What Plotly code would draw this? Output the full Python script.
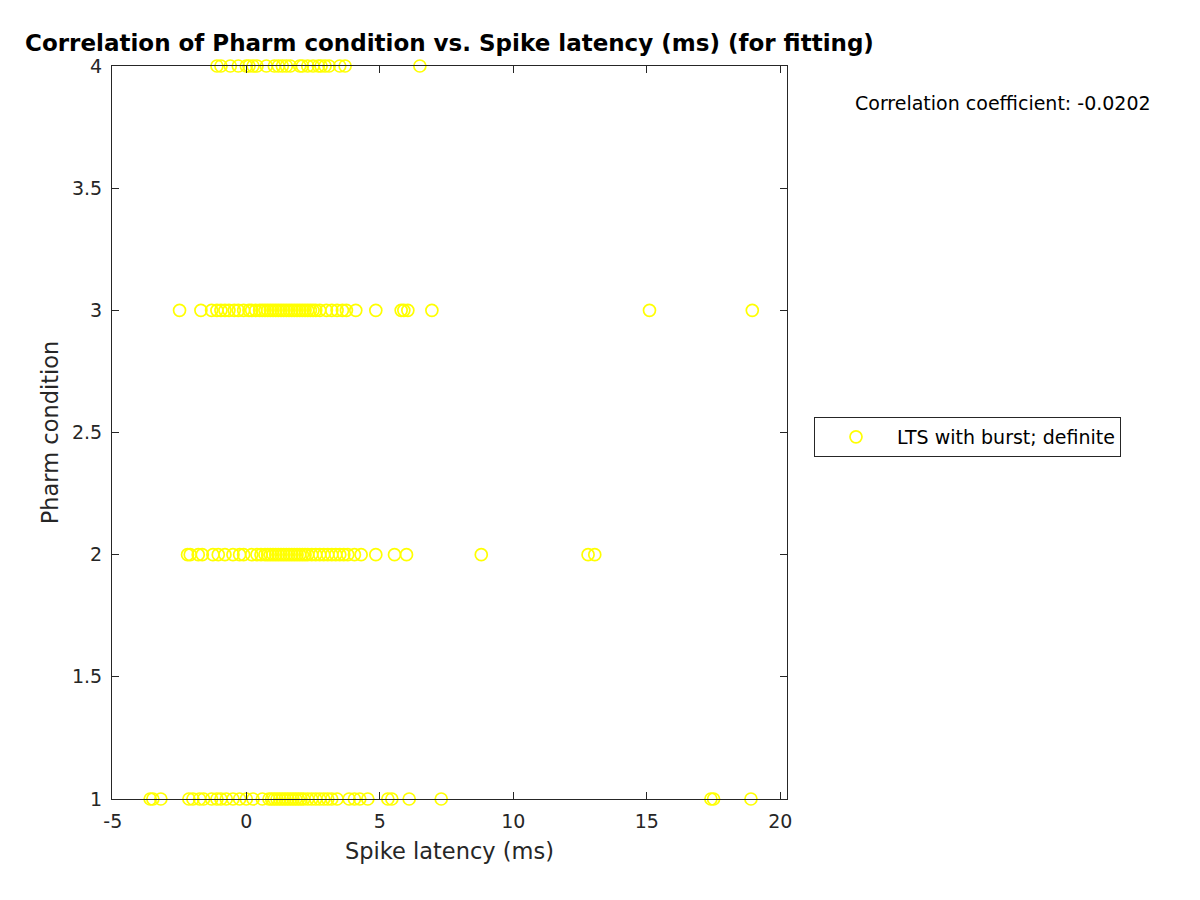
import plotly.graph_objects as go

# Spike latency (ms) values for each pharm condition
latency_pharm1 = [-3.6, -3.5, -3.2, -2.15, -2.0, -1.75, -1.6, -1.3, -1.1, -0.95, -0.75, -0.5,
                  -0.25, 0.0, 0.25, 0.6, 0.85, 0.95, 1.05, 1.15, 1.25, 1.35, 1.45, 1.55, 1.65,
                  1.75, 1.85, 1.95, 2.05, 2.15, 2.3, 2.45, 2.6, 2.75, 2.9, 3.05, 3.2, 3.4, 3.85,
                  4.05, 4.25, 4.55, 5.3, 5.45, 6.1, 7.3, 17.4, 17.5, 18.9]
latency_pharm2 = [-2.2, -2.1, -1.8, -1.65, -1.25, -1.05, -0.8, -0.5, -0.25, -0.1, 0.2, 0.4,
                  0.55, 0.7, 0.8, 0.9, 1.0, 1.1, 1.2, 1.3, 1.4, 1.5, 1.6, 1.7, 1.8, 1.9, 2.0,
                  2.1, 2.2, 2.3, 2.45, 2.6, 2.75, 2.9, 3.05, 3.2, 3.35, 3.5, 3.65, 3.8, 4.05,
                  4.3, 4.85, 5.55, 6.0, 8.8, 12.8, 13.05]
latency_pharm3 = [-2.5, -1.7, -1.3, -1.1, -0.95, -0.8, -0.65, -0.45, -0.3, -0.1, 0.1, 0.2,
                  0.35, 0.5, 0.6, 0.7, 0.8, 0.9, 1.0, 1.1, 1.2, 1.3, 1.4, 1.5, 1.6, 1.7, 1.8,
                  1.9, 2.0, 2.1, 2.2, 2.3, 2.4, 2.5, 2.6, 2.75, 3.0, 3.2, 3.4, 3.6, 3.75, 4.1,
                  4.85, 5.8, 5.9, 6.05, 6.95, 15.1, 18.95]
latency_pharm4 = [-1.1, -0.95, -0.6, -0.3, 0.0, 0.1, 0.25, 0.4, 0.75, 1.05, 1.2, 1.35, 1.5,
                  1.65, 2.0, 2.1, 2.3, 2.5, 2.7, 2.8, 2.95, 3.1, 3.5, 3.7, 6.5]

pharm_levels = [1, 2, 3, 4]
x_ticks = [-5, 0, 5, 10, 15, 20]
y_ticks = [1, 1.5, 2, 2.5, 3, 3.5, 4]
series_name = "LTS with burst; definite"
corr_text = "Correlation coefficient: -0.0202"
title_text = "Correlation of Pharm condition vs. Spike latency (ms) (for fitting)"

xs, ys = [], []
for lvl, vals in zip(pharm_levels, [latency_pharm1, latency_pharm2, latency_pharm3, latency_pharm4]):
    xs += vals
    ys += [lvl] * len(vals)

FONT = "DejaVu Sans"
AX = "#262626"

fig = go.Figure()
fig.add_trace(go.Scatter(
    x=xs, y=ys, mode="markers", name=series_name,
    marker=dict(symbol="circle-open", size=12, color="#ffff00", line=dict(width=1.7, color="#ffff00")),
    cliponaxis=False,
))

axis_common = dict(
    showgrid=False, zeroline=False, showline=True, linecolor=AX, linewidth=1,
    mirror="ticks", ticks="inside", ticklen=7, tickcolor=AX, tickwidth=1,
    ticklabelstandoff=5,
    tickfont=dict(family=FONT, size=19, color=AX),
)

fig.update_layout(
    width=1200, height=900,
    paper_bgcolor="white", plot_bgcolor="white",
    margin=dict(l=112, r=413, t=66, b=101),
    font=dict(family=FONT, color=AX),
    title=dict(text="<b>" + title_text + "</b>", x=0.5, xref="paper", xanchor="center",
               y=1 - 43 / 900, yref="container", yanchor="middle",
               font=dict(family=FONT, size=23, color="black")),
    xaxis=dict(range=[-5.03, 20.25], tickvals=x_ticks, ticktext=[str(v) for v in x_ticks],
               title=dict(text="Spike latency (ms)", font=dict(family=FONT, size=22.5, color=AX), standoff=12),
               **axis_common),
    yaxis=dict(range=[1, 4], tickvals=y_ticks, ticktext=[("%g" % v) for v in y_ticks],
               title=dict(text="Pharm condition", font=dict(family=FONT, size=22.5, color=AX), standoff=7),
               **axis_common),
    showlegend=True,
    legend=dict(x=1.04, y=(799 - 417) / 733, xanchor="left", yanchor="top",
                bordercolor=AX, borderwidth=1, bgcolor="white",
                font=dict(family=FONT, size=19, color="black"),
                itemwidth=72, tracegroupgap=0),
    annotations=[dict(text=corr_text, xref="paper", yref="paper",
                      x=(853 - 112) / 675, y=(799 - 103) / 733, xanchor="left", yanchor="middle",
                      showarrow=False, font=dict(family=FONT, size=19, color="black"))],
)

fig.write_html("out.html")
